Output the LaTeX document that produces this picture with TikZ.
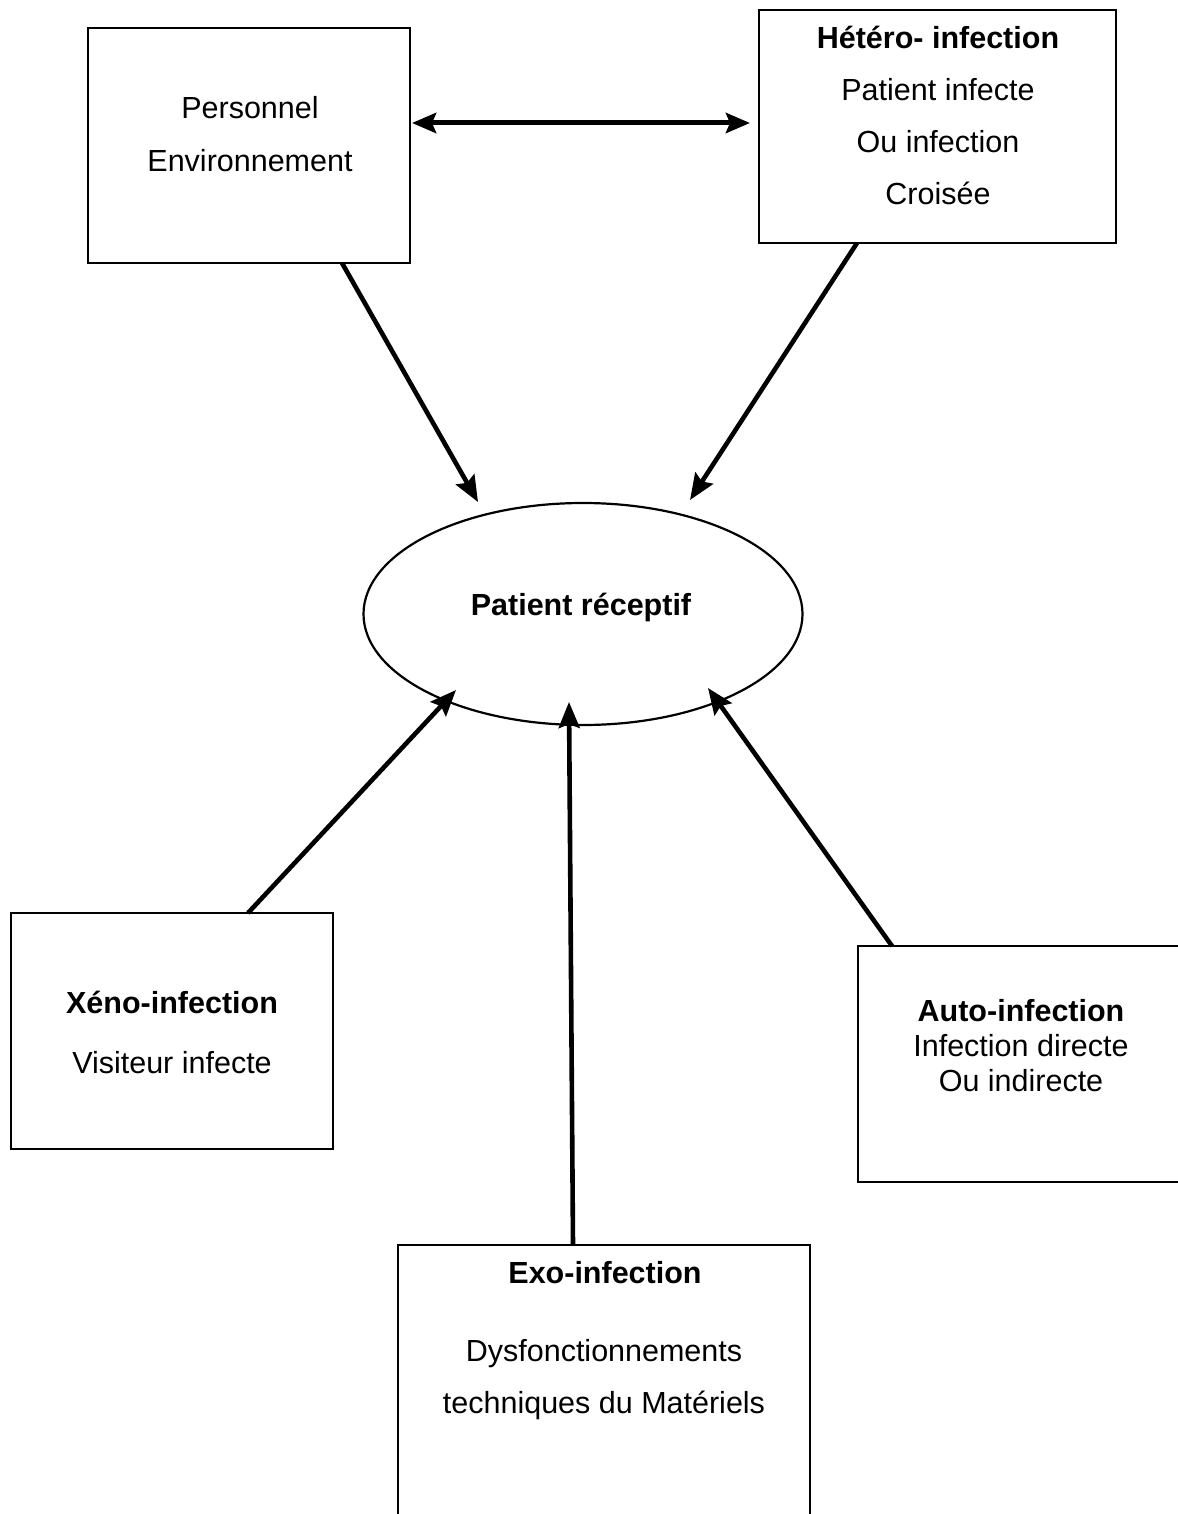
\documentclass[tikz,border=0pt]{standalone}
\usepackage{fontspec}
\setmainfont{Liberation Sans}
\usetikzlibrary{arrows.meta,shapes.geometric,calc}
\begin{document}
\begin{tikzpicture}[x=1pt,y=-1pt,
  box/.style={draw,line width=2.4pt,rectangle,inner sep=0pt,outer sep=0pt},
  txt/.style={font=\fontsize{30.5}{35}\selectfont,inner sep=0pt,anchor=base},
  btxt/.style={font=\fontsize{30.5}{35}\selectfont\bfseries,inner sep=0pt,anchor=base},
  arr/.style={line width=4.6pt,-{Stealth[length=26pt,width=21pt,inset=4pt]}},
  darr/.style={line width=5pt,{Stealth[length=24pt,width=20pt,inset=4pt]}-{Stealth[length=24pt,width=20pt,inset=4pt]}}
]
\useasboundingbox (0,0) rectangle (1177,1514);
\fill[white] (0,0) rectangle (1177,1514);

% boxes
\node[box,minimum width=322pt,minimum height=235pt] (pers) at (249,145.5) {};
\node[box,minimum width=357pt,minimum height=233pt] (het) at (937.5,126.5) {};
\node[box,minimum width=322pt,minimum height=236pt] (xen) at (172,1031) {};
\node[box,minimum width=332pt,minimum height=236pt] (auto) at (1024,1064) {};
\node[box,minimum width=412pt,minimum height=285pt] (exo) at (604,1387.5) {};
\node[draw,ellipse,line width=2.2pt,minimum width=439pt,minimum height=222pt,inner sep=0pt] (pat) at (583,614) {};

% texts
\node[txt] (t1) at (250,119) {Personnel};
\node[txt] (t2) at (250,172) {Environnement};

\node[btxt] (h1) at (938,49) {Hétéro- infection};
\node[txt] (h2) at (938,101) {Patient infecte};
\node[txt] (h3) at (938,153) {Ou infection};
\node[txt] (h4) at (938,205) {Croisée};

\node[btxt] (p1) at (581,615) {Patient réceptif};

\node[btxt] (x1) at (172,1013) {Xéno-infection};
\node[txt] (x2) at (172,1073) {Visiteur infecte};

\node[btxt] (a1) at (1021,1021) {Auto-infection};
\node[txt] (a2) at (1021,1056) {Infection directe};
\node[txt] (a3) at (1021,1091) {Ou indirecte};

\node[btxt] (e1) at (605,1283) {Exo-infection};
\node[txt] (e2) at (604,1361) {Dysfonctionnements};
\node[txt] (e3) at (604,1413) {techniques du Matériels};

% connectors
\draw[darr] ($(pers.north east)+(2,95)$) -- ($(het.north west)+(-9,113)$);
\draw[arr] ($(pers.south west)+(254,0)$) -- ($(pat.center)+(-105,-112)$);
\draw[arr] ($(het.south west)+(98,0)$) -- ($(pat.center)+(107,-114)$);
\draw[arr] ($(xen.north west)+(237,0)$) -- ($(pat.center)+(-127,76)$);
\draw[arr] ($(exo.north west)+(175,0)$) -- ($(pat.center)+(-14,88)$);
\draw[arr] ($(auto.north west)+(34,0)$) -- ($(pat.center)+(125,74)$);
\end{tikzpicture}
\end{document}
